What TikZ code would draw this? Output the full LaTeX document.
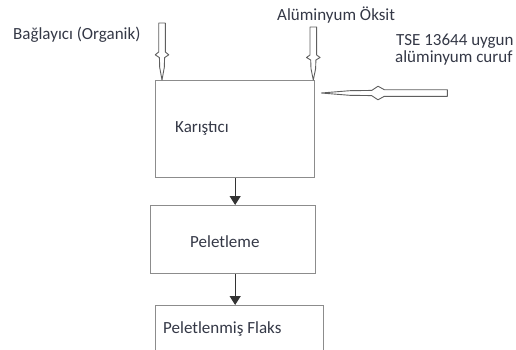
\documentclass[tikz,border=0pt]{standalone}
\usepackage{fontspec}
\setmainfont{Carlito}
\usetikzlibrary{arrows.meta}

\definecolor{textgray}{RGB}{52,56,70}
\definecolor{boxgray}{RGB}{140,140,140}
\definecolor{arrowgray}{RGB}{95,95,95}

\tikzset{
  stepbox/.style={draw=boxgray, line width=1.3bp, anchor=north west},
  flowarrow/.style={draw=black!80, line width=1.2bp, -{Triangle[length=9bp,width=11bp]}},
  hollowline/.style={draw=arrowgray, line width=0.9bp, fill=white, line join=round},
  pics/hollowarrow/.style 2 args={code={
    \draw[hollowline] (0,0) -- (-0.45*#2,2.3) -- (-0.8*#2,2.6) -- (-0.9*#2,6.8) -- (-#2,3.3) -- (-#1,3.3)
      -- (-#1,-3.3) -- (-#2,-3.3) -- (-0.9*#2,-6.8) -- (-0.8*#2,-2.6) -- (-0.45*#2,-2.3) -- cycle;
  }}
}

\begin{document}
\begin{tikzpicture}[x=1bp, y=-1bp,
    every node/.style={font=\fontsize{17bp}{17bp}\selectfont, text=textgray, inner sep=0pt}]
  \path[use as bounding box, clip] (0,0) rectangle (516,349);

  % process boxes
  \node[stepbox, minimum width=159bp, minimum height=97bp] (mix) at (155,80) {};
  \node[stepbox, minimum width=165bp, minimum height=68bp] (pellet) at (150,205) {};
  \node[stepbox, minimum width=168bp, minimum height=80bp] (flux) at (155,305) {};

  % texts
  \node[anchor=base west] (mixtxt) at (175,132) {Karıştıcı};
  \node[anchor=base west] (pellettxt) at (190,247) {Peletleme};
  \node[anchor=base west] (fluxtxt) at (163,333) {Peletlenmiş Flaks};
  \node[anchor=base west] (binder) at (13,39) {Bağlayıcı (Organik)};
  \node[anchor=base west] (alumina) at (277,20) {Alüminyum Öksit};
  \node[anchor=base west] (dross) at (396,45) {TSE 13644 uygun};
  \node[anchor=base west] (drossb) at (395,62) {alüminyum curuf};

  % inputs
  \pic[rotate=-90] at ([xshift=7bp]mix.north west) {hollowarrow={57}{28}};
  \pic[rotate=-90] at ([xshift=-2bp]mix.north east) {hollowarrow={53}{25}};
  \pic[rotate=180] at ([xshift=6bp,yshift=-13bp]mix.north east) {hollowarrow={126}{63}};

  % flow
  \draw[flowarrow] (mix.south) -- (mix.south |- pellet.north);
  \draw[flowarrow] (pellet.south -| mix.south) -- (mix.south |- flux.north);
\end{tikzpicture}
\end{document}
